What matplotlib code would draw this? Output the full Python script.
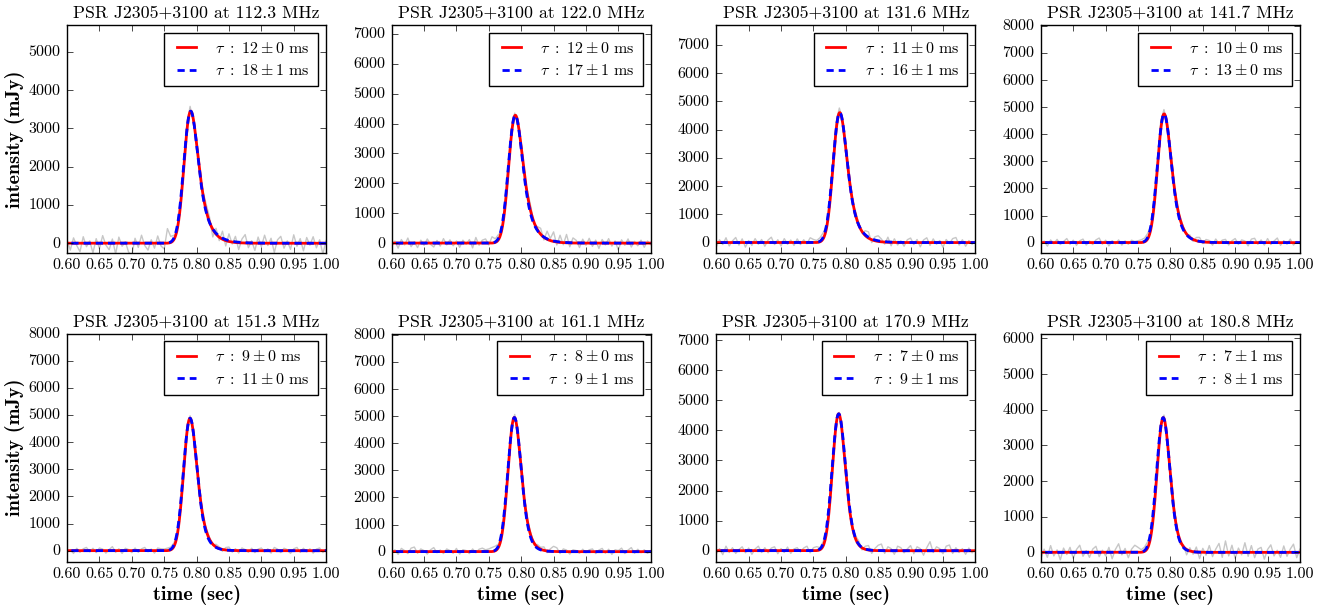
import numpy as np
import matplotlib
matplotlib.use("Agg")
import matplotlib.pyplot as plt
from matplotlib.font_manager import FontProperties

# ---- data ----
freqs = [112.3, 122.0, 131.6, 141.7, 151.3, 161.1, 170.9, 180.8]  # MHz
tau_iso = [12, 12, 11, 10, 9, 8, 7, 7]           # red fit, ms
tau_iso_err = [0, 0, 0, 0, 0, 0, 0, 1]
tau_1d = [18, 17, 16, 13, 11, 9, 9, 8]           # blue fit, ms
tau_1d_err = [1, 1, 1, 0, 0, 1, 1, 1]
peak = [3450, 4280, 4600, 4750, 4880, 4950, 4550, 3780]  # fitted peak, mJy
width = [0.0085, 0.0085, 0.0085, 0.0085, 0.0085, 0.0085, 0.0085, 0.0085]  # sec
ylims = [(-260, 5700), (-337, 7300), (-376, 7700), (-390, 8030),
         (-405, 8000), (-370, 8050), (-365, 7220), (-262, 6140)]
yticks_max = [5000, 7000, 7000, 8000, 8000, 8000, 7000, 6000]

# observed profile minus fit, sampled every 5 ms from 0.600 to 1.000 sec (mJy)
t_obs = np.linspace(0.6, 1.0, 81)
resid = [
    [90, -180, 140, -60, -220, 170, -90, 60, -250, 120, -140, 200, -50, -170, 110, -280, 160, -80, 40, -230,
     -320, 130, -110, 210, -60, -180, 90, -130, 190, -70, -150, 380, 160, 110, -80, 120, 90, 160, 140, -70,
     120, -140, 90, 170, 130, -200, 150, -90, 210, -140, 200, -50, 160, -180, 100, 220, -120, 60, -190, 160,
     -90, 210, -60, 130, -240, 90, 180, -130, 60, -160, 220, -80, 120, -200, 150, -50, 170, -120, 90, -280, 70],
    [-110, 70, -170, 120, -60, 170, -120, 40, -150, 100, -70, 140, -40, -130, 90, -100, 150, -60, 110, -90,
     70, -140, 100, -40, 120, -160, 190, -70, 100, 140, -60, 210, 120, 170, -70, 200, 300, 180, 90, -120,
     150, -100, 140, 170, -60, 100, 200, -90, 270, 70, 320, -100, 240, -70, 280, -130, 170, 90, -150, 130,
     -70, 160, -110, 100, -180, 120, -60, 150, -100, 70, -230, 110, -70, 140, -130, 60, -90, 100, -140, 70, -50],
    [-150, 100, -70, 170, -120, 60, 180, -90, 130, -160, 70, -100, 140, -60, 110, -130, 90, 190, -70, 100,
     -120, 140, -60, 90, -100, 130, -70, 100, -40, 170, 110, 70, 140, 210, 100, 170, 260, 280, 170, 100,
     140, 190, -100, 130, 70, -60, 170, 220, -100, 140, 200, 100, -70, 180, -120, 130, -90, 60, -130, 100,
     160, -70, 110, -150, 90, 170, -100, 130, -60, 70, -170, 110, -40, 140, 180, -90, 100, -130, 70, -60, 40],
    [-90, 60, -130, 100, -40, 120, -70, 40, 150, -60, 90, -100, 70, 130, -90, 60, -70, 100, 170, -60,
     90, -120, 70, -40, 100, -90, 60, -60, 90, 40, 70, 100, 140, 200, 120, 190, 270, 300, 160, 90,
     110, 140, -70, 100, 60, -40, 90, -70, 120, 150, -60, 100, 70, -100, 130, -40, 90, 120, -90, 70,
     150, -70, 100, 60, -120, 130, 160, -60, 100, -90, 150, -70, 60, 170, -100, 70, -60, 130, -90, 40, -40],
    [-70, 40, -100, 90, -60, 70, 120, -40, 90, -70, 100, 60, -90, 40, 150, -60, 70, -100, 90, 40,
     -70, 100, -60, 70, 120, -40, 60, -90, 100, 70, 60, 90, 100, 130, 70, 100, 160, 140, 90, 60,
     70, 100, -60, 90, 70, -40, 100, 60, -70, 90, 120, -60, 70, -90, 100, 40, -60, 90, -70, 60,
     100, -40, 70, -90, 120, 60, -70, 90, 40, -100, 70, 120, -60, 90, -40, 70, -90, 60, 100, -70, 40],
    [-60, 70, -100, 120, 40, -70, 130, 170, -60, 100, 40, -90, 70, 150, -40, 60, -70, 100, 40, -60,
     120, -90, 70, 40, -70, 100, -40, 90, 130, 70, 100, 150, 170, 120, 90, 140, 200, 180, 120, 70,
     100, 130, 60, 90, -70, 100, 70, 130, -60, 90, 190, 140, -70, 100, 60, -90, 70, 40, -60, 90,
     -40, 70, 100, -70, 60, 120, -60, 90, -100, 70, 40, 130, -70, 60, 150, -60, 90, -40, 70, -60, 40],
    [-100, 70, -130, 150, -60, 100, -90, 40, 130, -70, 90, -120, 60, 150, -60, 100, -70, 90, 130, -100,
     70, -60, 120, -90, 60, 100, -40, 90, 150, -70, 100, 130, 70, 140, 100, 170, 120, 100, 70, 40,
     100, 70, -60, 90, 130, -70, 100, 150, -100, 70, 180, 220, -90, 130, 70, -120, 150, 100, -70, 60,
     170, -100, 130, 70, -150, 100, 300, -60, 130, 70, -100, 150, 190, -90, 100, -60, 70, -120, 90, -70, 40],
    [-180, 90, -140, 190, -100, 70, -210, 120, -60, 140, -170, 80, 200, -110, 50, -140, 90, 170, -120, 60,
     -100, 140, -180, 80, 240, -70, 110, -150, 90, 200, 140, 70, 120, 170, 90, 150, 200, 120, 90, 60,
     -120, 140, 60, -100, 50, -150, 90, -70, 140, -180, 110, -80, 190, -120, 90, 250, -140, 320, -100, 200,
     -170, 120, -70, 270, -110, 190, -150, 90, 140, -190, 80, 210, -100, 60, -140, 180, -110, 90, 230, -150, 90],
]

t_fine = np.arange(0.55, 1.05, 0.0005)
t0 = 0.784  # intrinsic pulse centre, sec


def scattered(tau_ms, sigma, amp, kind):
    # gaussian pulse convolved with a scattering tail, peak scaled to amp
    tau = tau_ms / 1000.0
    g = np.exp(-0.5 * ((t_fine - t0) / sigma) ** 2)
    tk = np.arange(0.0005, 0.2, 0.0005)
    if kind == 'iso':
        kern = np.exp(-tk / tau)
    else:
        kern = np.exp(-tk / tau) / np.sqrt(tk)
    prof = np.convolve(g, kern)[:len(t_fine)]
    return amp * prof / prof.max()


plt.style.use('classic')
plt.rcParams['font.family'] = 'serif'
plt.rcParams['font.serif'] = ['cmr10']
plt.rcParams['mathtext.fontset'] = 'cm'
plt.rcParams['axes.formatter.use_mathtext'] = True
plt.rcParams['xtick.labelsize'] = 11.5
plt.rcParams['ytick.labelsize'] = 11.5
plt.rcParams['figure.facecolor'] = 'white'

title_font = FontProperties(family='cmr10', size=12.8)
bold_lab = FontProperties(family='cmb10', size=14.5)
leg_font = FontProperties(family='cmr10', size=11.5)

fig, axes = plt.subplots(2, 4, figsize=(13.25, 6.1), dpi=100)
fig.subplots_adjust(left=0.0506, right=0.9811, bottom=0.0792, top=0.959,
                    wspace=0.253, hspace=0.352)

for i, ax in enumerate(axes.flat):
    red = scattered(tau_iso[i], width[i], peak[i], 'iso')
    blue = scattered(tau_1d[i], width[i] * 1.1, peak[i], '1d')
    blue = np.roll(blue, np.argmax(red) - np.argmax(blue))
    obs_fit = np.interp(t_obs, t_fine, red)
    ax.plot(t_obs, obs_fit + np.array(resid[i]), color='0.78', lw=1.0)
    ax.plot(t_fine, red, color='red', lw=2,
            label=r'$\tau\ :\ %d \pm %d$ ms' % (tau_iso[i], tau_iso_err[i]))
    ax.plot(t_fine, blue, color='blue', lw=2, ls='--', dashes=(5.2, 3.6),
            label=r'$\tau\ :\ %d \pm %d$ ms' % (tau_1d[i], tau_1d_err[i]))
    ax.set_xlim(0.6, 1.0)
    ax.set_ylim(*ylims[i])
    ax.set_xticks(np.arange(0.6, 1.001, 0.05))
    ax.set_xticklabels(['%.2f' % v for v in np.arange(0.6, 1.001, 0.05)])
    ax.set_yticks(np.arange(0, yticks_max[i] + 1, 1000))
    ax.set_title('PSR J2305+3100 at %.1f MHz' % freqs[i], fontproperties=title_font)
    ax.legend(loc='upper right', prop=leg_font, handlelength=1.8,
              handletextpad=0.9, borderpad=0.5, labelspacing=0.45, fancybox=False)
    if i % 4 == 0:
        ax.set_ylabel('intensity (mJy)', fontproperties=bold_lab, labelpad=2)
    if i >= 4:
        ax.set_xlabel('time (sec)', fontproperties=bold_lab, labelpad=3)

fig.savefig('out.png', dpi=100, facecolor='white')
